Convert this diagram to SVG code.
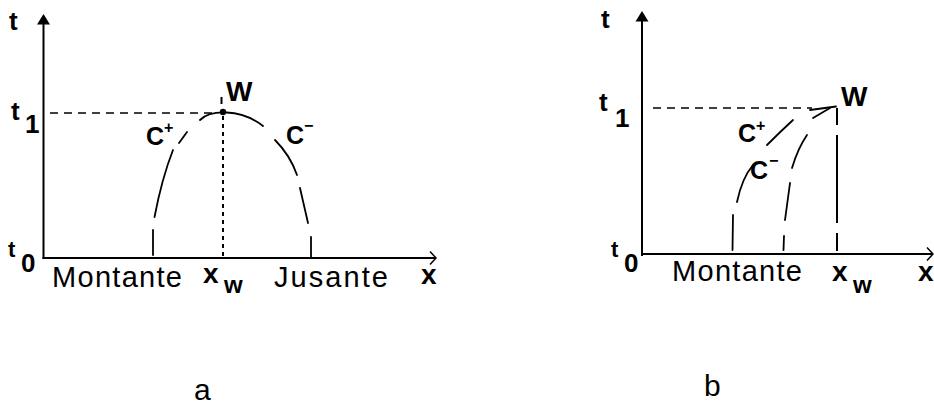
<svg xmlns="http://www.w3.org/2000/svg" width="934" height="407" viewBox="0 0 934 407">
<style>
text{font-family:"Liberation Sans",Arial,sans-serif;fill:#000}
.b{font-weight:bold}
.ax{stroke:#000;stroke-width:2;fill:none}
.cv{stroke:#000;stroke-width:1.8;fill:none;stroke-linecap:round}
.dash{stroke:#000;stroke-width:1.5;stroke-dasharray:8 6;fill:none}
.dot{stroke:#000;stroke-width:2;stroke-dasharray:4 4;fill:none}
</style>
<rect width="934" height="407" fill="#fff"/>
<g id="panel-a">
  <g id="a-axes">
    <line class="ax" x1="43.5" y1="22" x2="43.5" y2="259"/>
    <polygon points="43.5,14 37,24.5 50,24.5" fill="#000"/>
    <line class="ax" x1="42.5" y1="258" x2="435" y2="258"/>
    <polyline points="430,251.5 436,258 430,264.5" stroke="#000" stroke-width="1.5" fill="none"/>
  </g>
  <g id="a-guides">
    <line class="dash" x1="50" y1="113" x2="218" y2="113"/>
    <line class="dot" x1="223" y1="116" x2="223" y2="258"/>
    <line x1="221.5" y1="97" x2="221.5" y2="104" stroke="#000" stroke-width="2"/>
  </g>
  <g id="a-curves">
    <path class="cv" d="M200,120 C210,110 240,108 263,126"/>
    <line class="cv" x1="187" y1="132" x2="179" y2="143"/>
    <path class="cv" d="M173,150 Q162,178 154.5,217"/>
    <line class="cv" x1="153" y1="230" x2="153" y2="255"/>
    <path class="cv" d="M275,140 Q290,155 297,175"/>
    <line class="cv" x1="300" y1="188" x2="308" y2="223"/>
    <line class="cv" x1="311" y1="237" x2="311" y2="258"/>
    <circle cx="223" cy="112" r="3.2" fill="#000"/>
  </g>
  <g id="a-labels">
    <text class="b" x="9" y="30" font-size="26">t</text>
    <text class="b" x="11" y="120" font-size="26">t</text>
    <text class="b" x="25" y="133" font-size="26">1</text>
    <text class="b" x="8" y="257" font-size="22">t</text>
    <text class="b" x="21" y="272" font-size="26">0</text>
    <text class="b" x="226" y="101" font-size="28">W</text>
    <text class="b" x="146" y="145" font-size="25">C</text>
    <text class="b" x="164" y="133" font-size="16">+</text>
    <text class="b" x="286" y="144" font-size="25">C</text>
    <text class="b" x="304" y="131" font-size="16">−</text>
    <text x="52" y="287" font-size="29" textLength="130">Montante</text>
    <text class="b" x="203" y="283" font-size="28">x</text>
    <text class="b" x="224" y="293" font-size="24">w</text>
    <text x="274" y="287" font-size="29" textLength="114">Jusante</text>
    <text class="b" x="421" y="284" font-size="28">x</text>
    <text x="194" y="400" font-size="30">a</text>
  </g>
</g>
<g id="panel-b">
  <g id="b-axes">
    <line class="ax" x1="642" y1="20" x2="642" y2="256"/>
    <polygon points="642,11 635.5,21.5 648.5,21.5" fill="#000"/>
    <line class="ax" x1="641" y1="254" x2="932" y2="254"/>
    <polyline points="927,247.5 933,254 927,260.5" stroke="#000" stroke-width="1.5" fill="none"/>
  </g>
  <g id="b-guides">
    <line class="dash" x1="653" y1="108" x2="812" y2="108"/>
    <line x1="837" y1="108" x2="837" y2="125" stroke="#000" stroke-width="2"/>
    <line x1="837" y1="135" x2="837" y2="223" stroke="#000" stroke-width="2"/>
    <line x1="837" y1="233" x2="837" y2="251" stroke="#000" stroke-width="2"/>
  </g>
  <g id="b-curves">
    <line class="cv" x1="810" y1="110" x2="836" y2="106.5"/>
    <line class="cv" x1="813" y1="118" x2="830" y2="108"/>
    <path class="cv" d="M767,145 Q780,132 793,120"/>
    <path class="cv" d="M737,202 Q742,178 753,165"/>
    <line class="cv" x1="733" y1="215" x2="732.5" y2="250"/>
    <path class="cv" d="M792,168 Q798,148 807,135"/>
    <line class="cv" x1="790" y1="183" x2="785" y2="220"/>
    <line class="cv" x1="784" y1="236" x2="783.5" y2="250"/>
  </g>
  <g id="b-labels">
    <text class="b" x="601" y="28" font-size="26">t</text>
    <text class="b" x="599" y="111" font-size="26">t</text>
    <text class="b" x="615" y="127" font-size="26">1</text>
    <text class="b" x="611" y="257" font-size="22">t</text>
    <text class="b" x="624" y="272" font-size="26">0</text>
    <text class="b" x="841" y="106" font-size="28">W</text>
    <text class="b" x="738" y="142" font-size="25">C</text>
    <text class="b" x="756" y="131" font-size="16">+</text>
    <text class="b" x="750" y="179" font-size="25">C</text>
    <text class="b" x="769" y="166" font-size="16">−</text>
    <text x="672" y="281" font-size="29" textLength="130">Montante</text>
    <text class="b" x="832" y="281" font-size="28">x</text>
    <text class="b" x="853" y="293" font-size="24">w</text>
    <text class="b" x="918" y="281" font-size="28">x</text>
    <text x="704" y="396" font-size="30">b</text>
  </g>
</g>
</svg>
